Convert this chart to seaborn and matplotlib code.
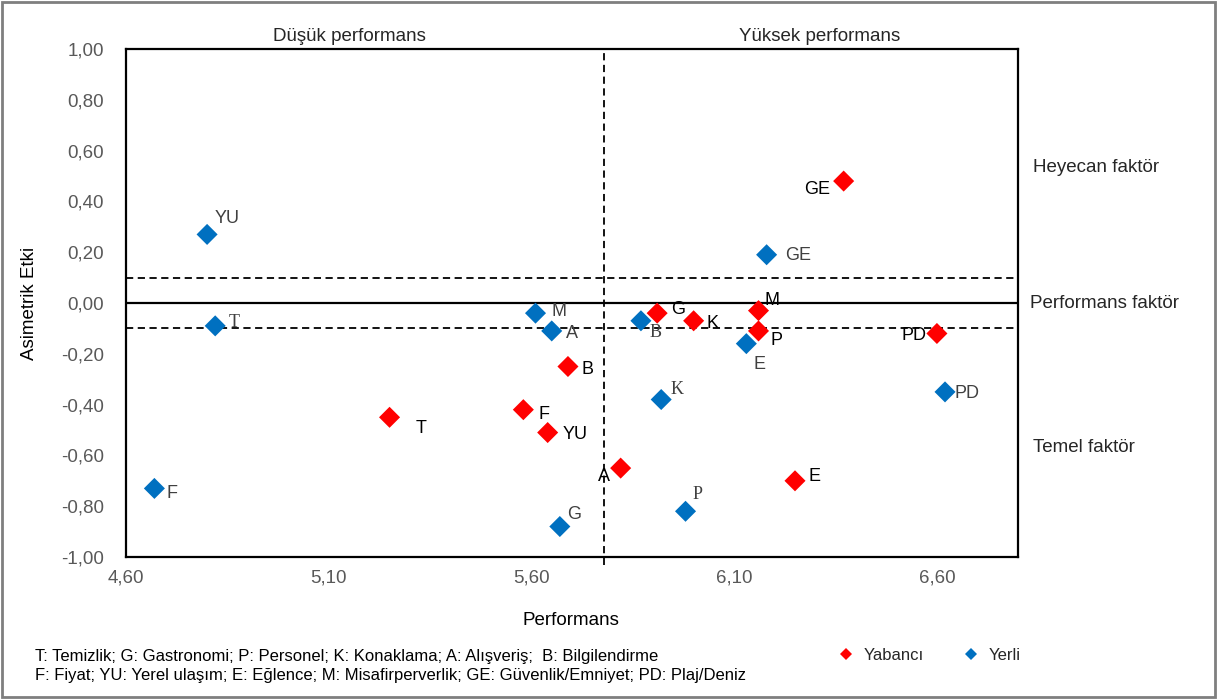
import pandas as pd
import matplotlib.pyplot as plt
import seaborn as sns
from matplotlib.patches import Rectangle
from matplotlib.ticker import FuncFormatter

# data
codes = ['T', 'G', 'P', 'K', 'A', 'B', 'F', 'YU', 'E', 'M', 'GE', 'PD']
yabanci_perf = [5.25, 5.91, 6.16, 6.00, 5.82, 5.69, 5.58, 5.64, 6.25, 6.16, 6.37, 6.60]
yabanci_etki = [-0.45, -0.04, -0.11, -0.07, -0.65, -0.25, -0.42, -0.51, -0.70, -0.03, 0.48, -0.12]
yerli_perf = [4.82, 5.67, 5.98, 5.92, 5.65, 5.87, 4.67, 4.80, 6.13, 5.61, 6.18, 6.62]
yerli_etki = [-0.09, -0.88, -0.82, -0.38, -0.11, -0.07, -0.73, 0.27, -0.16, -0.04, 0.19, -0.35]
mean_perf = 5.78
band = 0.10

x_ticks = [4.60, 5.10, 5.60, 6.10, 6.60]
y_ticks = [-1.0, -0.8, -0.6, -0.4, -0.2, 0.0, 0.2, 0.4, 0.6, 0.8, 1.0]

footnote = ("T: Temizlik; G: Gastronomi; P: Personel; K: Konaklama; A: Alışveriş;  B: Bilgilendirme\n"
            "F: Fiyat; YU: Yerel ulaşım; E: Eğlence; M: Misafirperverlik; GE: Güvenlik/Emniyet; PD: Plaj/Deniz")

# label placement (pixel offsets from the marker, ha)
red_offsets = {
    'T': (26, -11, 'left'), 'G': (14, 4, 'left'), 'P': (12, -10, 'left'), 'K': (13, -3, 'left'),
    'A': (-11, -8, 'right'), 'B': (14, -3, 'left'), 'F': (15, -5, 'left'), 'YU': (15, -2, 'left'),
    'E': (13, 4, 'left'), 'M': (6, 10, 'left'), 'GE': (-14, -8, 'right'), 'PD': (-10, -2, 'right'),
}
blue_offsets = {
    'T': (13, 3, 'left'), 'G': (7, 12, 'left'), 'P': (7, 17, 'left'), 'K': (9, 10, 'left'),
    'A': (14, -3, 'left'), 'B': (9, -12, 'left'), 'F': (12, -5, 'left'), 'YU': (8, 16, 'left'),
    'E': (13, -21, 'center'), 'M': (16, 2, 'left'), 'GE': (19, -1, 'left'), 'PD': (9, -2, 'left'),
}
serif_blue = ['T', 'B', 'K', 'P']

df = pd.concat([
    pd.DataFrame({'kod': codes, 'Performans': yabanci_perf, 'Etki': yabanci_etki, 'Grup': 'Yabancı'}),
    pd.DataFrame({'kod': codes, 'Performans': yerli_perf, 'Etki': yerli_etki, 'Grup': 'Yerli'}),
], ignore_index=True)

sns.set_theme(style="white")
plt.rcParams['font.family'] = ['Liberation Sans', 'DejaVu Sans']

fig = plt.figure(figsize=(12.17, 6.99), dpi=100)
ax = fig.add_axes([126 / 1217, 1 - 557 / 699, 892 / 1217, 508 / 699])

colors = {'Yabancı': '#FF0000', 'Yerli': '#0070C0'}
sns.scatterplot(data=df, x='Performans', y='Etki', hue='Grup', palette=colors,
                marker='D', s=115, linewidth=0, ax=ax, zorder=5)

ax.set_xlim(4.60, 6.80)
ax.set_ylim(-1.0, 1.0)
ax.set_xticks(x_ticks)
ax.set_yticks(y_ticks)
comma = FuncFormatter(lambda v, p: f"{v:.2f}".replace('.', ','))
ax.xaxis.set_major_formatter(comma)
ax.yaxis.set_major_formatter(comma)
ax.tick_params(axis='both', length=0, labelsize=13.5, labelcolor='#595959')
ax.tick_params(axis='x', pad=9)
ax.tick_params(axis='y', pad=16)

for sp in ax.spines.values():
    sp.set_color('black')
    sp.set_linewidth(1.6)

ax.axhline(0, color='black', lw=1.6, zorder=2)
ax.axhline(band, color='black', lw=1.3, ls=(0, (4, 2.5)), zorder=2)
ax.axhline(-band, color='black', lw=1.3, ls=(0, (4, 2.5)), zorder=2)
ax.axvline(mean_perf, ymin=-0.015, ymax=1, color='black', lw=1.3, ls=(0, (4, 2.5)),
           zorder=2, clip_on=False)

# point labels
for grp, offs, tcolor in [('Yabancı', red_offsets, 'black'), ('Yerli', blue_offsets, '#404040')]:
    sub = df[df['Grup'] == grp]
    for _, r in sub.iterrows():
        dx, dy, ha = offs[r['kod']]
        fam = ['Liberation Serif'] if (grp == 'Yerli' and r['kod'] in serif_blue) else ['Liberation Sans', 'DejaVu Sans']
        ax.annotate(r['kod'], (r['Performans'], r['Etki']), xytext=(dx * 0.72, dy * 0.72),
                    textcoords='offset points', ha=ha, va='center', fontsize=13,
                    color=tcolor, family=fam, zorder=6)

ax.set_xlabel('Performans', fontsize=13.5, color='black')
ax.set_ylabel('Asimetrik Etki', fontsize=13.5, color='black')
ax.xaxis.set_label_coords(0.499, -0.108)
ax.yaxis.set_label_coords(-0.099, 0.5)

ax.text(0.25, 1.024, 'Düşük performans', transform=ax.transAxes, ha='center', va='center', fontsize=13.5)
ax.text(0.778, 1.024, 'Yüksek performans', transform=ax.transAxes, ha='center', va='center', fontsize=13.5)
ax.text(1.017, 0.766, 'Heyecan faktör', transform=ax.transAxes, ha='left', va='center', fontsize=13.5)
ax.text(1.013, 0.5, 'Performans faktör', transform=ax.transAxes, ha='left', va='center', fontsize=13.5)
ax.text(1.017, 0.2165, 'Temel faktör', transform=ax.transAxes, ha='left', va='center', fontsize=13.5)

sns.move_legend(ax, 'center', ncol=2, frameon=False, title=None, fontsize=12,
                markerscale=0.6, handletextpad=0.1, columnspacing=1.8)
leg = ax.get_legend()
leg.set_bbox_to_anchor((925 / 1217, 1 - 655 / 699), transform=fig.transFigure)

fig.text(35 / 1217, 1 - 666 / 699, footnote, ha='left', va='center', fontsize=12,
         linespacing=1.3, color='black')

fig.patches.append(Rectangle((0.002, 0.003), 0.996, 0.994, transform=fig.transFigure,
                             fill=False, edgecolor='#7f7f7f', lw=2))

fig.savefig('out.png', dpi=100)
